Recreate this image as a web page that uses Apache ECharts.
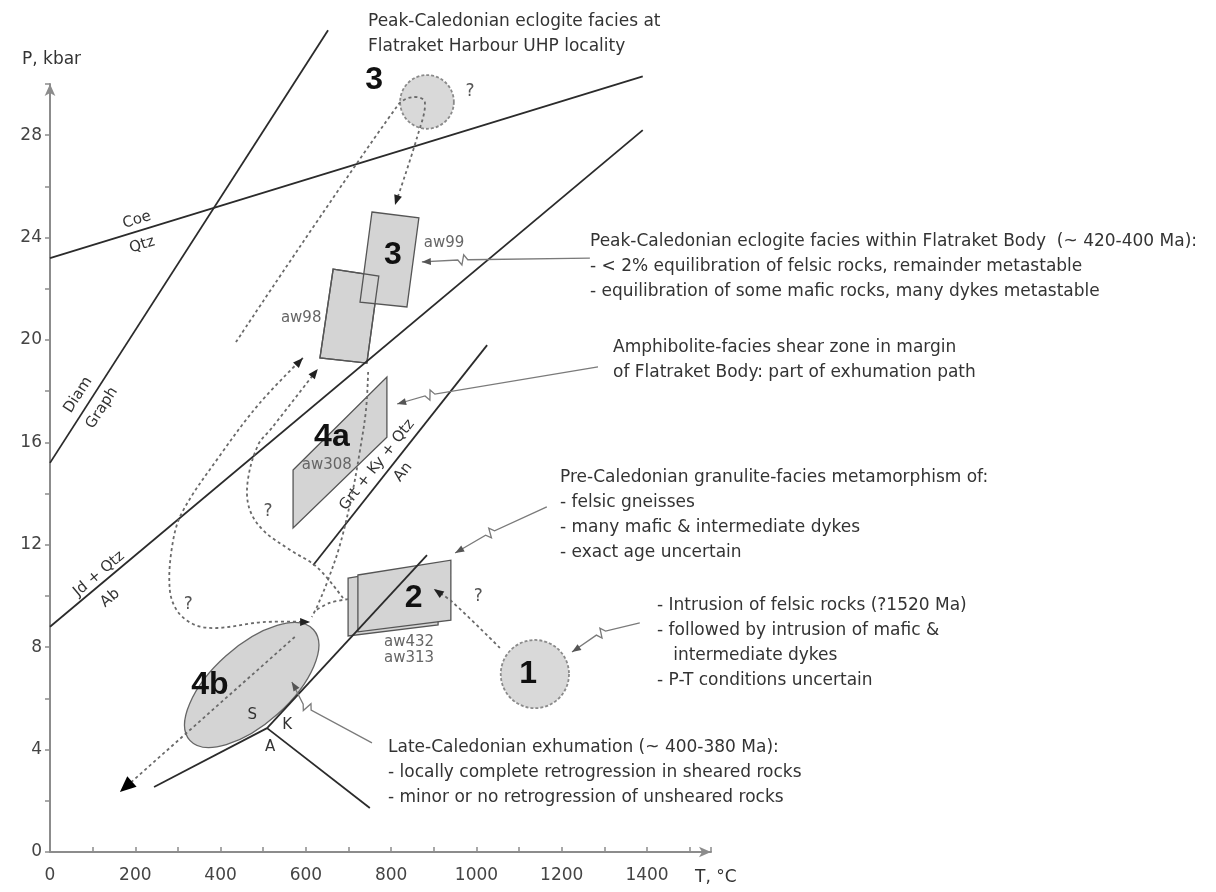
<!DOCTYPE html>
<html>
<head>
<meta charset="utf-8">
<title>P-T evolution, Flatraket Body</title>
<script src="https://cdn.jsdelivr.net/npm/echarts@6/dist/echarts.min.js"></script>
<style>
  html, body { margin: 0; padding: 0; background: #fff; }
  #chart { width: 1216px; height: 892px; }
</style>
</head>
<body>
<div id="chart"></div>
<script>
var FONT = '"DejaVu Sans", "Liberation Sans", sans-serif';
var BOLD = 'bold 32px "Liberation Sans", Arial, sans-serif';

// reaction curves, points are [T (°C), P (kbar)]
var coeQtz = [[0, 23.2], [1390, 30.3]];
var diamGraph = [[0, 15.2], [652, 32.1]];
var jdQtzAb = [[0, 8.8], [1390, 28.2]];
var gasp = [[617, 11.2], [1025, 19.8]];
var andKy = [[244, 2.54], [509, 4.84]];
var kySil = [[509, 4.84], [884, 11.6]];
var andSil = [[509, 4.84], [750, 1.72]];

// labels along the curves [T, P, text]
var coeQtzLabels = [[204, 24.69, 'Coe'], [216, 23.71, 'Qtz']];
var diamGraphLabels = [[66, 17.85, 'Diam'], [122, 17.34, 'Graph']];
var jdQtzAbLabels = [[115, 10.86, 'Jd + Qtz'], [141, 9.92, 'Ab']];
var gaspLabels = [[767, 15.12, 'Grt + Ky + Qtz'], [828, 14.84, 'An']];
var alSiLabels = [[474, 5.35, 'S'], [556, 4.96, 'K'], [516, 4.1, 'A']];

// sample P-T boxes (corner points)
var boxAw99 = [[755, 25.0], [865, 24.77], [837, 21.29], [727, 21.48]];
var boxAw98 = [[664, 22.77], [771, 22.5], [743, 19.1], [633, 19.3]];
var boxAw308 = [[570, 14.92], [790, 18.55], [790, 16.2], [570, 12.66]];
var boxAw432 = [[699, 10.7], [910, 11.29], [910, 8.87], [699, 8.44]];
var boxAw313 = [[722, 10.82], [940, 11.4], [940, 9.06], [722, 8.6]];

// field 4b ellipse: centre, end of long axis, end of short axis
var field4b = [[473, 6.52], [618, 8.68], [534, 5.39]];
// uncertain fields: centre, point on rim
var field1 = [[1137, 6.95], [1217, 6.95]];
var field3uhp = [[884, 29.3], [947, 29.3]];

var sampleLabels = [[924, 23.79, 'aw99'], [589, 20.86, 'aw98'], [649, 15.12, 'aw308'],
  [842, 8.2, 'aw432'], [842, 7.58, 'aw313']];
var stageLabels = [[760, 30.16, '3'], [804, 23.32, '3'], [661, 16.21, '4a'],
  [375, 6.52, '4b'], [853, 9.92, '2'], [1121, 6.95, '1']];
var queryLabels = [[985, 29.69, '?'], [324, 9.65, '?'], [511, 13.28, '?'], [1004, 9.96, '?']];

// P-T paths (dashed)
var pathToUhp = [[436, 19.92], [816, 29.18], [851, 29.49], [879, 29.3], [861, 27.93], [809, 25.27]];
var pathOuterLoop = [[593, 19.3], [492, 17.54], [399, 15.5], [309, 13.24], [286, 11.9], [281, 10.23],
  [300, 9.38], [340, 8.87], [392, 8.75], [499, 8.98], [610, 8.98]];
var pathInnerLoop = [[687, 9.92], [626, 11.13], [563, 11.8], [499, 12.58], [467, 13.44], [464, 14.53],
  [488, 15.9], [520, 16.56], [628, 18.87]];
var pathRetro = [[746, 18.75], [741, 17.27], [727, 15.7], [708, 13.95], [680, 12.0], [652, 10.63],
  [628, 9.65], [614, 9.18]];
var pathBox2Link = [[699, 9.88], [656, 9.73], [624, 9.45]];
var pathFrom1 = [[1055, 7.97], [943, 9.77], [900, 10.27]];
var pathExhum = [[574, 8.4], [183, 2.62], [164, 2.34]];

// pointer arrows from the notes: start, break mark, tip
var arrowPeak = [[1266, 23.2], [968, 23.13], [872, 23.05]];
var arrowShear = [[1285, 18.95], [891, 17.85], [814, 17.5]];
var arrowGranulite = [[1165, 13.48], [1032, 12.46], [950, 11.68]];
var arrowIntrusion = [[1383, 8.95], [1292, 8.55], [1224, 7.81]];
var arrowExhum = [[755, 4.26], [603, 5.66], [567, 6.64]];

// notes
var noteUhp = ['Peak-Caledonian eclogite facies at', 'Flatraket Harbour UHP locality'];
var notePeak = ['Peak-Caledonian eclogite facies within Flatraket Body  (~ 420-400 Ma):',
  '- < 2% equilibration of felsic rocks, remainder metastable',
  '- equilibration of some mafic rocks, many dykes metastable'];
var noteShear = ['Amphibolite-facies shear zone in margin', 'of Flatraket Body: part of exhumation path'];
var noteGranulite = ['Pre-Caledonian granulite-facies metamorphism of:', '- felsic gneisses',
  '- many mafic & intermediate dykes', '- exact age uncertain'];
var noteIntrusion = ['- Intrusion of felsic rocks (?1520 Ma)', '- followed by intrusion of mafic &',
  '   intermediate dykes', '- P-T conditions uncertain'];
var noteExhum = ['Late-Caledonian exhumation (~ 400-380 Ma):',
  '- locally complete retrogression in sheared rocks',
  '- minor or no retrogression of unsheared rocks'];

var chart = echarts.init(document.getElementById('chart'));

function head(tip, from, len, half) {
  var dx = tip[0] - from[0], dy = tip[1] - from[1];
  var d = Math.sqrt(dx * dx + dy * dy) || 1;
  var ux = dx / d, uy = dy / d;
  return [tip, [tip[0] - len * ux - half * uy, tip[1] - len * uy + half * ux],
    [tip[0] - len * ux + half * uy, tip[1] - len * uy - half * ux]];
}

function toPx(api, pts) {
  return pts.map(function (p) { return api.coord(p); });
}

function angleOf(api, line) {
  var a = api.coord(line[0]), b = api.coord(line[line.length - 1]);
  return Math.atan2(-(b[1] - a[1]), b[0] - a[0]);
}

function label(x, y, text, font, fill, rot) {
  return {
    type: 'text', x: x, y: y, rotation: rot || 0,
    style: { text: text, font: font, fill: fill, align: 'center', verticalAlign: 'middle' }
  };
}

// fields under everything
function renderFields(params, api) {
  var kids = [];
  var boxStyle = { fill: '#d4d4d4', stroke: '#555', lineWidth: 1.3 };
  [boxAw432, boxAw313, boxAw308, boxAw98, boxAw99].forEach(function (b) {
    kids.push({ type: 'polygon', shape: { points: toPx(api, b) }, style: boxStyle });
  });
  // overlap outline of aw98 over aw99
  kids.push({ type: 'polygon', shape: { points: toPx(api, boxAw98) },
    style: { fill: null, stroke: '#555', lineWidth: 1.3 } });

  var c = api.coord(field4b[0]), m = api.coord(field4b[1]), s = api.coord(field4b[2]);
  var rx = Math.hypot(m[0] - c[0], m[1] - c[1]);
  var ry = Math.hypot(s[0] - c[0], s[1] - c[1]);
  kids.push({ type: 'ellipse', x: c[0], y: c[1], rotation: Math.atan2(-(m[1] - c[1]), m[0] - c[0]),
    shape: { cx: 0, cy: 0, rx: rx, ry: ry },
    style: { fill: '#d4d4d4', stroke: '#666', lineWidth: 1.3 } });

  [field1, field3uhp].forEach(function (f) {
    var o = api.coord(f[0]), e = api.coord(f[1]);
    kids.push({ type: 'circle', shape: { cx: o[0], cy: o[1], r: Math.abs(e[0] - o[0]) },
      style: { fill: '#d9d9d9', stroke: '#8a8a8a', lineWidth: 1.8, lineDash: [3, 2] } });
  });
  return { type: 'group', children: kids };
}

function renderReactions(params, api) {
  var kids = [];
  [coeQtz, diamGraph, jdQtzAb, gasp, andKy, kySil, andSil].forEach(function (l) {
    kids.push({ type: 'polyline', shape: { points: toPx(api, l) },
      style: { stroke: '#2b2b2b', lineWidth: 1.8, fill: null } });
  });
  var font = '15px ' + FONT;
  [[coeQtz, coeQtzLabels], [diamGraph, diamGraphLabels], [jdQtzAb, jdQtzAbLabels], [gasp, gaspLabels]]
    .forEach(function (pair) {
      var rot = angleOf(api, pair[0]);
      pair[1].forEach(function (t) {
        var p = api.coord([t[0], t[1]]);
        kids.push(label(p[0], p[1], t[2], font, '#333', rot));
      });
    });
  alSiLabels.forEach(function (t) {
    var p = api.coord([t[0], t[1]]);
    kids.push(label(p[0], p[1], t[2], font, '#333', 0));
  });
  return { type: 'group', children: kids };
}

function renderPaths(params, api) {
  var kids = [];
  var dash = { stroke: '#6a6a6a', lineWidth: 1.8, lineDash: [3, 3], fill: null };
  var headStyle = { fill: '#222', stroke: null };
  // [path, arrow at start, arrow at end]
  [[pathToUhp, false, true], [pathOuterLoop, true, true], [pathInnerLoop, false, true],
   [pathRetro, false, false], [pathBox2Link, false, false], [pathFrom1, false, true]]
    .forEach(function (cfg) {
      var pts = toPx(api, cfg[0]);
      kids.push({ type: 'polyline', shape: { points: pts, smooth: 0.35 }, style: dash });
      if (cfg[1]) kids.push({ type: 'polygon', shape: { points: head(pts[0], pts[1], 10, 4) }, style: headStyle });
      if (cfg[2]) {
        var n = pts.length;
        kids.push({ type: 'polygon', shape: { points: head(pts[n - 1], pts[n - 2], 10, 4) }, style: headStyle });
      }
    });
  var ex = toPx(api, pathExhum);
  kids.push({ type: 'polyline', shape: { points: [ex[0], ex[1]] }, style: dash });
  kids.push({ type: 'polygon', shape: { points: head(ex[2], ex[0], 16, 7) }, style: { fill: '#000' } });

  // pointer arrows with a break mark
  [arrowPeak, arrowShear, arrowGranulite, arrowIntrusion, arrowExhum].forEach(function (a) {
    var s = api.coord(a[0]), z = api.coord(a[1]), t = api.coord(a[2]);
    var dx = t[0] - s[0], dy = t[1] - s[1], d = Math.hypot(dx, dy);
    var ux = dx / d, uy = dy / d, nx = -uy, ny = ux;
    var pts = [s, [z[0] - 5 * ux, z[1] - 5 * uy], [z[0] - 1 * ux + 5 * nx, z[1] - 1 * uy + 5 * ny],
      [z[0] + 1 * ux - 5 * nx, z[1] + 1 * uy - 5 * ny], [z[0] + 5 * ux, z[1] + 5 * uy], t];
    kids.push({ type: 'polyline', shape: { points: pts }, style: { stroke: '#7a7a7a', lineWidth: 1.3, fill: null } });
    kids.push({ type: 'polygon', shape: { points: head(t, z, 9, 3.5) }, style: { fill: '#555' } });
  });
  return { type: 'group', children: kids };
}

function renderLabels(params, api) {
  var kids = [];
  stageLabels.forEach(function (t) {
    var p = api.coord([t[0], t[1]]);
    kids.push(label(p[0], p[1], t[2], BOLD, '#111', 0));
  });
  sampleLabels.forEach(function (t) {
    var p = api.coord([t[0], t[1]]);
    kids.push(label(p[0], p[1], t[2], '15px ' + FONT, '#666', 0));
  });
  queryLabels.forEach(function (t) {
    var p = api.coord([t[0], t[1]]);
    kids.push(label(p[0], p[1], t[2], '17px ' + FONT, '#555', 0));
  });
  return { type: 'group', children: kids };
}

function layer(fn, z) {
  return { type: 'custom', coordinateSystem: 'cartesian2d', renderItem: fn, data: [[0, 0]],
    clip: false, silent: true, z: z };
}

// note blocks: [lines, left px, first-line middle px]
var noteLayout = [[noteUhp, 368, 22], [notePeak, 590, 242], [noteShear, 613, 348],
  [noteGranulite, 560, 478], [noteIntrusion, 657, 606], [noteExhum, 388, 748]];
var graphics = [];
noteLayout.forEach(function (n) {
  n[0].forEach(function (line, i) {
    graphics.push({ type: 'text', x: n[1], y: n[2] + i * 25, silent: true,
      style: { text: line, font: '17px ' + FONT, fill: '#333', verticalAlign: 'middle' } });
  });
});
graphics.push({ type: 'text', x: 22, y: 60, style: { text: 'P, kbar', font: '17px ' + FONT, fill: '#333', verticalAlign: 'middle' } });
graphics.push({ type: 'text', x: 695, y: 878, style: { text: 'T, °C', font: '17px ' + FONT, fill: '#333', verticalAlign: 'middle' } });

var axisColor = '#8c8c8c';
chart.setOption({
  backgroundColor: '#fff',
  animation: false,
  grid: { left: 50, top: 84, width: 661, height: 768, outerBoundsMode: 'none' },
  xAxis: {
    type: 'value', min: 0, max: 1550, interval: 100,
    axisLine: { show: true, onZero: false, symbol: ['none', 'arrow'], symbolSize: [8, 12],
      lineStyle: { color: axisColor, width: 2 } },
    axisTick: { show: true, inside: true, length: 5, lineStyle: { color: axisColor, width: 1.5 } },
    axisLabel: { margin: 15, color: '#444', fontSize: 17, fontFamily: FONT,
      formatter: function (v) { return (v % 200 === 0 && v <= 1400) ? String(v) : ''; } },
    splitLine: { show: false }
  },
  yAxis: {
    type: 'value', min: 0, max: 30, interval: 2,
    axisLine: { show: true, onZero: false, symbol: ['none', 'arrow'], symbolSize: [8, 12],
      lineStyle: { color: axisColor, width: 2 } },
    axisTick: { show: true, inside: false, length: 5, lineStyle: { color: axisColor, width: 1.5 } },
    axisLabel: { margin: 8, color: '#444', fontSize: 17, fontFamily: FONT,
      formatter: function (v) { return (v % 4 === 0 && v <= 28) ? String(v) : ''; } },
    splitLine: { show: false }
  },
  graphic: graphics,
  series: [layer(renderFields, 1), layer(renderReactions, 2), layer(renderPaths, 3), layer(renderLabels, 4)]
});
</script>
</body>
</html>
